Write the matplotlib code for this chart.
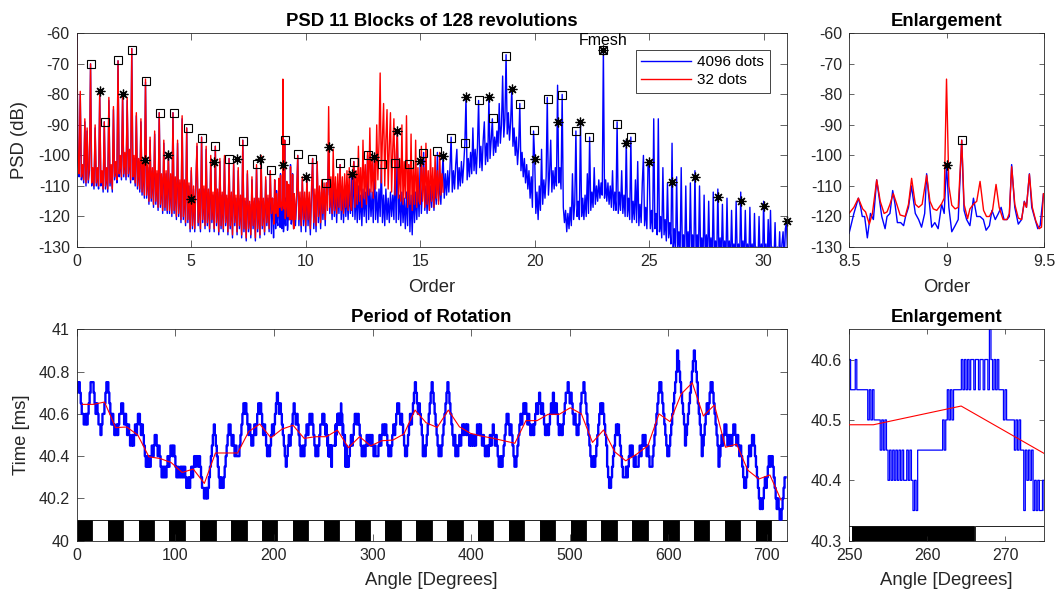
import numpy as np
import matplotlib
matplotlib.use('Agg')
import matplotlib.pyplot as plt
from matplotlib.ticker import FormatStrFormatter

plt.rcParams['font.family'] = ['Liberation Sans', 'DejaVu Sans']
plt.rcParams['axes.unicode_minus'] = False

# ---------------- PSD data (dB), 0.05 order grid ----------------
# 4096 dots per revolution, orders 0 .. 8.45
psd4096_a = [
    -60, -102, -107, -80, -108, -104, -109, -89, -110, -92, -109, -105, -70, -110, -105, -111, -91, -110, -105, -111,
    -80, -110, -106, -112, -89, -111, -105, -112, -82, -110, -104, -112, -85, -108, -103, -109, -69, -107, -101, -108,
    -80, -107, -100, -108, -82, -107, -99, -109, -65, -108, -101, -110, -87, -111, -102, -112, -89, -113, -103, -114,
    -76, -114, -104, -116, -95, -115, -105, -117, -93, -116, -106, -118, -86, -117, -107, -119, -96, -118, -106, -119,
    -100, -119, -107, -120, -86, -119, -108, -121, -96, -120, -109, -122, -88, -121, -109, -123, -91, -122, -110, -125,
    -105, -124, -111, -125, -110, -97, -123, -112, -125, -94, -122, -111, -124, -98, -123, -112, -125, -101, -122, -113,
    -125, -97, -123, -112, -126, -102, -124, -113, -125, -101, -123, -114, -126, -101, -124, -113, -127, -103, -123, -114,
    -126, -105, -124, -114, -127, -95, -125, -115, -128, -106, -125, -116, -127, -108, -124, -115, -128, -104, -125, -115,
    -127, -101, -124, -115, -126, -108, -123, -114, -125, -105,
]
# 4096 dots per revolution, orders 9.55 .. 31.1
psd4096_b = [
    -123, -115, -100, -123, -114, -125, -108, -123, -114,
    -125, -108, -123, -114, -126, -113, -101, -124, -113, -125, -103, -122, -112, -124, -110, -121, -111, -123, -109, -113,
    -97, -119, -110, -121, -108, -120, -111, -122, -110, -119, -103, -121, -111, -122, -110, -120, -112, -121, -111, -119,
    -106, -120, -102, -121, -112, -122, -110, -121, -113, -123, -111, -120, -112, -122, -100, -121, -111, -120, -112, -122,
    -101, -121, -112, -122, -111, -120, -103, -122, -113, -123, -111, -121, -114, -122, -112, -120, -113, -121, -104, -122,
    -93, -121, -113, -123, -112, -122, -114, -124, -112, -123, -103, -125, -113, -126, -111, -122, -112, -121, -110, -120,
    -102, -119, -111, -99, -118, -110, -119, -109, -118, -110, -117, -108, -118, -109, -116, -99, -115, -108, -116, -107,
    -100, -114, -106, -113, -105, -112, -104, -94, -112, -105, -111, -103, -98, -111, -104, -110, -102, -109, -103, -96,
    -81, -108, -101, -107, -99, -106, -91, -105, -98, -106, -97, -82, -104, -97, -105, -95, -89, -103, -96, -102,
    -81, -101, -95, -88, -100, -94, -99, -92, -97, -83, -96, -90, -74, -94, -88, -67, -93, -86, -95, -89,
    -78, -97, -91, -100, -94, -103, -97, -83, -105, -99, -107, -101, -109, -103, -111, -105, -114, -107, -117, -92,
    -101, -119, -112, -121, -110, -118, -98, -116, -108, -114, -107, -81, -113, -106, -95, -112, -105, -111, -104, -110,
    -77, -109, -104, -111, -80, -117, -122, -118, -125, -119, -124, -117, -123, -106, -121, -116, -92, -120, -115, -121,
    -89, -120, -114, -121, -113, -120, -106, -119, -94, -118, -112, -117, -104, -116, -110, -115, -108, -114, -109, -113,
    -65, -114, -108, -115, -109, -116, -110, -117, -105, -118, -112, -118, -89, -119, -112, -118, -105, -119, -113, -120,
    -95, -120, -114, -121, -94, -122, -115, -121, -108, -122, -102, -123, -116, -122, -109, -100, -123, -117, -124, -103,
    -102, -124, -118, -125, -88, -124, -119, -126, -88, -125, -120, -127, -104, -126, -121, -128, -109, -127, -122, -129,
    -96, -131, -124, -132, -107, -131, -125, -133, -104, -132, -126, -133, -110, -132, -125, -134, -109, -132, -126, -134,
    -105, -133, -126, -134, -110, -133, -127, -135, -113, -133, -126, -134, -115, -133, -127, -135, -112, -134, -128, -135,
    -111, -134, -127, -135, -116, -134, -128, -135, -114, -134, -128, -136, -118, -134, -129, -135, -115, -134, -129, -136,
    -112, -134, -128, -135, -118, -134, -129, -136, -117, -135, -129, -136, -119, -135, -130, -136, -120, -135, -129, -136,
    -115, -134, -129, -136, -121, -135, -118, -136, -130, -135, -122, -136, -130, -135, -125, -136, -129, -125, -135, -124,
    -122, -134, -120,
]
# 32 dots per revolution, orders 0 .. 8.45
psd32_a = [
    -60, -101, -106, -79, -107, -103, -108, -88, -109, -91, -108, -104, -70, -109, -104, -110, -90, -109, -104, -110,
    -79, -109, -105, -111, -89, -110, -104, -111, -81, -109, -103, -111, -84, -107, -102, -108, -69, -106, -100, -107,
    -80, -106, -99, -107, -81, -106, -98, -108, -65, -107, -100, -109, -86, -110, -101, -111, -88, -112, -102, -113,
    -75, -113, -103, -115, -94, -114, -104, -116, -92, -115, -105, -117, -86, -116, -106, -118, -95, -117, -105, -118,
    -99, -118, -106, -119, -86, -118, -107, -120, -95, -119, -108, -121, -87, -120, -108, -122, -91, -121, -109, -124,
    -104, -123, -110, -124, -109, -96, -122, -111, -124, -94, -121, -110, -123, -97, -122, -111, -124, -100, -121, -112,
    -124, -97, -122, -111, -125, -101, -123, -112, -124, -100, -122, -113, -125, -101, -123, -112, -126, -102, -122, -113,
    -125, -104, -123, -113, -126, -95, -124, -114, -127, -105, -124, -115, -126, -107, -123, -114, -127, -103, -124, -114,
    -126, -100, -123, -114, -125, -107, -122, -113, -124, -105,
]
# 32 dots per revolution, orders 9.55 .. 16
psd32_b = [
    -121, -113, -100, -121, -112, -123, -107, -121, -112,
    -123, -107, -121, -112, -124, -111, -101, -122, -111, -123, -102, -120, -110, -122, -108, -119, -109, -121, -109, -118,
    -84, -117, -107, -119, -98, -118, -107, -119, -106, -117, -103, -118, -107, -119, -106, -117, -105, -118, -104, -116,
    -118, -106, -102, -117, -105, -116, -97, -115, -104, -117, -95, -114, -103, -116, -99, -113, -91, -112, -101, -114,
    -100, -111, -90, -108, -96, -73, -109, -94, -83, -110, -95, -85, -111, -97, -86, -112, -98, -88, -113, -99,
    -92, -114, -101, -115, -90, -116, -102, -114, -87, -117, -103, -116, -93, -118, -104, -116, -95, -117, -104, -115,
    -116, -97, -115, -104, -117, -96, -116, -105, -118, -98, -115, -104, -117, -100, -114, -105, -116, -99, -113, -106,
    -112,
]
# full resolution around order 9: (order, dB)
psd4096_fine = [
    (8.500, -125.6), (8.525, -119), (8.548, -114), (8.560, -117), (8.568, -120), (8.580, -120),
    (8.594, -127), (8.610, -119), (8.625, -121), (8.642, -108), (8.655, -114), (8.668, -120),
    (8.685, -124), (8.695, -120), (8.710, -119), (8.724, -111.5), (8.736, -116), (8.748, -122),
    (8.765, -122), (8.780, -123), (8.790, -120), (8.805, -117), (8.820, -110), (8.840, -119),
    (8.857, -121), (8.872, -123.5), (8.888, -119), (8.898, -106), (8.910, -114), (8.924, -123.5),
    (8.940, -122), (8.957, -124), (8.975, -116), (8.988, -119), (9.000, -103), (9.012, -117),
    (9.027, -125), (9.044, -123), (9.060, -121), (9.078, -95), (9.090, -118), (9.103, -121),
    (9.120, -123), (9.138, -114), (9.155, -120), (9.172, -120), (9.189, -121), (9.203, -124.5),
    (9.220, -123), (9.233, -118), (9.250, -121), (9.266, -119), (9.280, -117), (9.295, -121),
    (9.310, -121), (9.322, -120), (9.334, -103), (9.350, -117), (9.368, -122.5), (9.385, -121),
    (9.399, -115), (9.410, -117), (9.425, -106), (9.437, -117), (9.450, -120), (9.468, -124),
    (9.480, -123), (9.497, -112.5),
]
psd32_fine = [
    (8.500, -119), (8.525, -117), (8.548, -114), (8.570, -117.5), (8.585, -118.5), (8.604, -122.5),
    (8.620, -119), (8.642, -108), (8.660, -115), (8.680, -119), (8.695, -118.5), (8.710, -116),
    (8.727, -112.5), (8.745, -116), (8.762, -119.5), (8.788, -120), (8.805, -116), (8.821, -107.5),
    (8.840, -116), (8.857, -117), (8.875, -116), (8.898, -106.5), (8.915, -115), (8.932, -117.5),
    (8.950, -118), (8.975, -115.8), (8.988, -114), (9.000, -75), (9.012, -110), (9.027, -116.3),
    (9.044, -117.5), (9.060, -117), (9.078, -95), (9.090, -116), (9.108, -120.7), (9.120, -117.5),
    (9.138, -116), (9.155, -115), (9.172, -108.5), (9.190, -118), (9.205, -120), (9.220, -120),
    (9.236, -118), (9.254, -109.5), (9.270, -117), (9.290, -121), (9.310, -121), (9.322, -119),
    (9.334, -103.7), (9.350, -116), (9.368, -120.5), (9.385, -121), (9.399, -115.2), (9.410, -117),
    (9.425, -106.2), (9.440, -117), (9.458, -121.5), (9.475, -124), (9.487, -123.5), (9.497, -112.5),
]

# shaft harmonics (asterisks)
shaft_orders = list(range(1, 32))
shaft_db = [-78.9, -80, -101.6, -99.8, -114.2, -102.2, -101.1, -101.3, -103, -107.1,
            -97.3, -106, -100.6, -92, -101.8, -100.2, -81, -81, -78.4, -101.3,
            -89.1, -89, -65.6, -95.9, -102.3, -108.7, -107.2, -113.6, -115, -116.5, -121.6]
# second shaft harmonics (squares)
pinion_orders = [0.61, 1.21, 1.82, 2.42, 3.03, 3.63, 4.24, 4.84, 5.45, 6.05,
                 6.66, 7.26, 7.87, 8.47, 9.08, 9.68, 10.29, 10.89, 11.50, 12.11,
                 12.71, 13.32, 13.92, 14.53, 15.13, 15.74, 16.34, 16.95, 17.55, 18.16,
                 18.76, 19.37, 19.97, 20.58, 21.18, 21.79, 22.39, 23.00, 23.61, 24.21]
pinion_db = [-70, -89, -68.7, -65.4, -75.5, -86, -86, -91, -94.2, -97,
             -101.1, -95.2, -102.7, -104.7, -95, -99.5, -101.1, -109.1, -102.6, -102.1,
             -100, -102.8, -102.4, -102.8, -99.2, -98.6, -94.2, -96, -82, -87.7,
             -67.4, -83, -91.7, -81.5, -80.1, -91.9, -94.1, -65.6, -89.7, -94.1]
fmesh_order = 23

# ---------------- period of rotation ----------------
# timer counts of 0.05 ms above 40 ms, one sample per degree from 0 to 249
period_a = [
    14, 15, 15, 14, 13, 12, 12, 11, 11, 12, 11, 12, 13, 14, 15, 15, 15, 14, 13, 12,
    13, 12, 11, 11, 10, 11, 12, 12, 13, 14, 15, 15, 14, 13, 12, 11, 12, 11, 10, 10,
    11, 10, 11, 12, 12, 13, 13, 12, 11, 12, 11, 10, 11, 10, 9, 9, 10, 9, 10, 11,
    10, 11, 12, 12, 11, 10, 11, 10, 9, 8, 7, 8, 7, 8, 7, 8, 9, 8, 9, 10,
    10, 9, 8, 9, 8, 7, 6, 7, 6, 7, 6, 7, 8, 7, 8, 9, 9, 8, 9, 8,
    7, 6, 7, 6, 6, 7, 6, 7, 6, 7, 6, 5, 5, 6, 5, 6, 7, 6, 7, 8,
    7, 8, 8, 7, 8, 7, 6, 5, 5, 4, 4, 5, 4, 5, 6, 7, 8, 9, 10, 11,
    10, 9, 8, 7, 6, 5, 6, 5, 5, 6, 7, 8, 9, 10, 11, 11, 10, 9, 10, 9,
    8, 9, 8, 8, 8, 9, 10, 11, 12, 13, 12, 13, 12, 11, 10, 11, 10, 9, 9, 10,
    11, 10, 11, 12, 13, 12, 13, 12, 11, 10, 11, 10, 9, 8, 9, 8, 9, 10, 11, 10,
    11, 12, 13, 14, 13, 12, 13, 12, 11, 10, 9, 8, 7, 8, 9, 10, 9, 10, 11, 12,
    13, 12, 11, 12, 11, 10, 9, 8, 8, 9, 8, 9, 10, 11, 10, 11, 12, 11, 12, 11,
    10, 9, 8, 9, 8, 9, 10, 11, 11, 12,
]
# every 0.2 degree from 250 to 275
period_fine = [
    12, 11, 11, 11, 12, 11, 11, 11, 11, 11,
    11, 11, 10, 11, 10, 11, 10, 10, 10, 10,
    9, 10, 9, 10, 9, 8, 9, 8, 9, 8,
    9, 8, 9, 8, 9, 8, 8, 9, 8, 9,
    8, 7, 8, 7, 9, 9, 9, 9, 9, 9,
    9, 9, 9, 9, 9, 9, 9, 9, 9, 9,
    10, 9, 10, 11, 10, 11, 10, 11, 11, 11,
    11, 11, 12, 11, 12, 11, 12, 11, 12, 12,
    11, 12, 12, 11, 12, 12, 11, 12, 12, 11,
    13, 12, 11, 12, 11, 12, 11, 11, 11, 10,
    11, 10, 10, 10, 10, 10, 9, 10, 9, 10,
    9, 9, 7, 9, 8, 9, 8, 9, 7, 8,
    7, 8, 7, 7, 8, 7,
]
# one sample per degree from 276 to 719
period_b = [
    8, 9, 10, 9, 10, 11, 12, 12, 11, 12, 11, 10, 9, 8, 8, 9, 8, 9, 10, 9,
    10, 10, 9, 10, 9, 8, 9, 8, 8, 8, 9, 10, 9, 10, 11, 11, 10, 11, 10, 9,
    8, 9, 8, 9, 10, 11, 10, 11, 12, 13, 13, 12, 11, 12, 11, 10, 9, 8, 8, 9,
    10, 11, 12, 11, 12, 13, 14, 15, 14, 13, 12, 13, 12, 11, 10, 8, 9, 8, 9, 10,
    11, 12, 13, 14, 15, 14, 13, 12, 11, 10, 9, 8, 9, 8, 9, 10, 11, 12, 13, 14,
    15, 14, 13, 12, 11, 10, 9, 10, 8, 9, 8, 9, 10, 9, 10, 11, 10, 11, 11, 10,
    11, 10, 9, 10, 9, 10, 9, 10, 9, 10, 11, 11, 10, 11, 10, 9, 10, 9, 8, 8,
    9, 8, 9, 10, 9, 10, 11, 10, 9, 10, 9, 8, 7, 7, 8, 7, 8, 9, 10, 11,
    12, 12, 11, 10, 11, 10, 9, 8, 7, 7, 8, 9, 10, 11, 12, 11, 12, 13, 12, 13,
    12, 11, 12, 11, 10, 10, 11, 10, 11, 12, 13, 12, 13, 14, 13, 12, 13, 12, 11, 10,
    10, 11, 10, 11, 12, 13, 12, 14, 13, 12, 13, 12, 11, 10, 11, 10, 10, 11, 12, 13,
    14, 14, 15, 14, 13, 14, 13, 12, 11, 12, 11, 10, 10, 11, 12, 13, 14, 14, 15, 14,
    13, 12, 11, 10, 9, 8, 7, 7, 8, 7, 8, 9, 10, 11, 12, 13, 12, 13, 12, 11,
    10, 9, 7, 6, 5, 5, 6, 7, 8, 9, 10, 11, 10, 11, 10, 9, 8, 7, 6, 6,
    6, 7, 6, 7, 8, 9, 8, 9, 8, 7, 8, 7, 7, 7, 8, 9, 8, 9, 10, 9,
    10, 9, 8, 9, 8, 7, 7, 7, 8, 9, 10, 11, 12, 13, 14, 15, 15, 14, 13, 12,
    11, 10, 9, 8, 8, 9, 10, 11, 12, 13, 14, 15, 16, 18, 17, 16, 15, 14, 13, 12,
    11, 9, 10, 11, 12, 13, 14, 15, 16, 17, 18, 17, 16, 15, 13, 12, 11, 10, 8, 9,
    10, 11, 12, 13, 12, 13, 14, 15, 15, 14, 13, 12, 11, 10, 9, 7, 8, 9, 10, 9,
    10, 11, 11, 10, 9, 10, 9, 10, 9, 10, 11, 11, 10, 9, 10, 9, 8, 9, 8, 7,
    6, 5, 5, 6, 7, 8, 9, 8, 9, 10, 10, 9, 8, 7, 6, 5, 4, 3, 4, 3,
    4, 5, 6, 5, 6, 7, 8, 7, 8, 8, 7, 6, 5, 4, 3, 4, 3, 2, 2, 3,
    4, 5, 6, 6,
]
# 32 dots per revolution (ms), first point at 5.625 degrees, one every 11.25 degrees
period_32 = [40.645, 40.645, 40.656, 40.535, 40.538, 40.500, 40.397, 40.389, 40.370, 40.323,
             40.339, 40.271, 40.415, 40.415, 40.415, 40.516, 40.552, 40.487, 40.528, 40.546,
             40.484, 40.492, 40.492, 40.523, 40.440, 40.492, 40.449, 40.473, 40.476, 40.505,
             40.618, 40.558, 40.536, 40.618, 40.539, 40.508, 40.495, 40.485, 40.473, 40.461,
             40.568, 40.568, 40.598, 40.598, 40.629, 40.600, 40.465, 40.524, 40.421, 40.378,
             40.410, 40.450, 40.600, 40.563, 40.694, 40.747, 40.590, 40.642, 40.442, 40.457,
             40.334, 40.292, 40.311, 40.193]
# gear teeth along the two revolutions
tooth_start = [0.00, 15.65, 31.30, 46.96, 62.61, 78.26, 93.91, 109.57, 125.22, 140.87,
               156.52, 172.17, 187.83, 203.48, 219.13, 234.78, 250.43, 266.09, 281.74, 297.39,
               313.04, 328.70, 344.35, 360.00, 375.65, 391.30, 406.96, 422.61, 438.26, 453.91,
               469.57, 485.22, 500.87, 516.52, 532.17, 547.83, 563.48, 579.13, 594.78, 610.43,
               626.09, 641.74, 657.39, 673.04, 688.70, 704.35]
tooth_width = 15.65

# ---------------- assemble series ----------------
step = 0.05
fb = np.array(psd4096_fine).T
fr = np.array(psd32_fine).T
blue_x = np.concatenate([step * np.arange(len(psd4096_a)), fb[0], 9.55 + step * np.arange(len(psd4096_b))])
blue_y = np.concatenate([psd4096_a, fb[1], psd4096_b])
red_x = np.concatenate([step * np.arange(len(psd32_a)), fr[0], 9.55 + step * np.arange(len(psd32_b))])
red_y = np.concatenate([psd32_a, fr[1], psd32_b])

angle = np.concatenate([np.arange(len(period_a)), 250 + 0.2 * np.arange(len(period_fine)),
                        276 + np.arange(len(period_b))])
period = 40 + 0.05 * np.concatenate([period_a, period_fine, period_b])
angle_32 = 5.625 + 11.25 * np.arange(len(period_32))
tooth_colors = ['k', 'w'] * (len(tooth_start) // 2)

GREY = '#262626'
star = (8, 2, 0)
TICK_FS = 11.5
LABEL_FS = 13.3


def style(ax, ticklen):
    ax.tick_params(direction='in', top=True, right=True, length=ticklen, width=0.5,
                   colors=GREY, labelsize=TICK_FS, pad=5)
    for s in ax.spines.values():
        s.set_linewidth(0.6)
        s.set_color(GREY)


fig = plt.figure(figsize=(10.61, 5.99), dpi=100)
ax1 = fig.add_axes([0.0724, 0.5876, 0.6689, 0.3568])
ax2 = fig.add_axes([0.8002, 0.5876, 0.1838, 0.3568])
ax3 = fig.add_axes([0.0724, 0.0973, 0.6689, 0.3529])
ax4 = fig.add_axes([0.8002, 0.0973, 0.1838, 0.3529])

# PSD overview
l1, = ax1.plot(blue_x, blue_y, color='b', lw=1.0)
l2, = ax1.plot(red_x, red_y, color='r', lw=1.0)
ax1.plot(shaft_orders, shaft_db, ls='none', marker=star, ms=7, mec='k', mew=0.9, clip_on=False)
ax1.plot(pinion_orders, pinion_db, ls='none', marker='s', ms=6, mfc='none', mec='k', mew=0.8, clip_on=False)
ax1.text(fmesh_order, -63.8, 'Fmesh', ha='center', va='baseline', fontsize=11.5)
ax1.set_xlim(0, 31)
ax1.set_ylim(-130, -60)
ax1.set_xticks(range(0, 31, 5))
ax1.set_yticks(range(-130, -59, 10))
ax1.set_title('PSD 11 Blocks of 128 revolutions', fontsize=LABEL_FS, fontweight='bold', pad=5)
ax1.set_xlabel('Order', fontsize=LABEL_FS, color=GREY, labelpad=7)
ax1.set_ylabel('PSD (dB)', fontsize=LABEL_FS, color=GREY, labelpad=7)
leg = ax1.legend([l1, l2], ['4096 dots', '32 dots'], loc='upper right', fontsize=11,
                 fancybox=False, framealpha=1, edgecolor=GREY, borderaxespad=1.1,
                 handlelength=3.3, handletextpad=0.4, borderpad=0.35, labelspacing=0.25)
leg.get_frame().set_linewidth(0.6)
for ln, c in zip(leg.get_lines(), ['b', 'r']):
    ln.set_color(c)
    ln.set_linewidth(1.0)
style(ax1, 5)

# PSD enlargement
ax2.plot(blue_x, blue_y, color='b', lw=1.0)
ax2.plot(red_x, red_y, color='r', lw=1.0)
ax2.plot(shaft_orders, shaft_db, ls='none', marker=star, ms=7, mec='k', mew=0.9)
ax2.plot(pinion_orders, pinion_db, ls='none', marker='s', ms=6, mfc='none', mec='k', mew=0.8)
ax2.set_xlim(8.5, 9.5)
ax2.set_ylim(-130, -60)
ax2.set_xticks([8.5, 9, 9.5])
ax2.set_yticks(range(-130, -59, 10))
ax2.xaxis.set_major_formatter(FormatStrFormatter('%g'))
ax2.set_title('Enlargement', fontsize=LABEL_FS, fontweight='bold', pad=5)
ax2.set_xlabel('Order', fontsize=LABEL_FS, color=GREY, labelpad=7)
style(ax2, 3.5)

# period of rotation
ax3.bar(tooth_start, 0.1, width=tooth_width, bottom=40, align='edge', color=tooth_colors,
        edgecolor='k', linewidth=0.6, zorder=1)
ax3.plot(angle, period, color='b', lw=1.7, drawstyle='steps-post', zorder=2)
ax3.plot(angle_32, period_32, color='r', lw=0.8, zorder=3)
ax3.set_xlim(0, 720)
ax3.set_ylim(40, 41)
ax3.set_xticks(range(0, 701, 100))
ax3.set_yticks([40, 40.2, 40.4, 40.6, 40.8, 41])
ax3.yaxis.set_major_formatter(FormatStrFormatter('%g'))
ax3.set_title('Period of Rotation', fontsize=LABEL_FS, fontweight='bold', pad=5)
ax3.set_xlabel('Angle [Degrees]', fontsize=LABEL_FS, color=GREY, labelpad=7)
ax3.set_ylabel('Time [ms]', fontsize=LABEL_FS, color=GREY, labelpad=6)
style(ax3, 5)

# period enlargement
ax4.bar(tooth_start, 0.025, width=tooth_width, bottom=40.3, align='edge', color=tooth_colors,
        edgecolor='k', linewidth=0.6, zorder=1)
ax4.plot(angle, period, color='b', lw=0.9, drawstyle='steps-post', zorder=2)
ax4.plot(angle_32, period_32, color='r', lw=0.8, zorder=3)
ax4.set_xlim(250, 275)
ax4.set_ylim(40.3, 40.65)
ax4.set_xticks([250, 260, 270])
ax4.set_yticks([40.3, 40.4, 40.5, 40.6])
ax4.yaxis.set_major_formatter(FormatStrFormatter('%g'))
ax4.set_title('Enlargement', fontsize=LABEL_FS, fontweight='bold', pad=5)
ax4.set_xlabel('Angle [Degrees]', fontsize=LABEL_FS, color=GREY, labelpad=7)
style(ax4, 3.5)

fig.savefig('out.png', dpi=100)
